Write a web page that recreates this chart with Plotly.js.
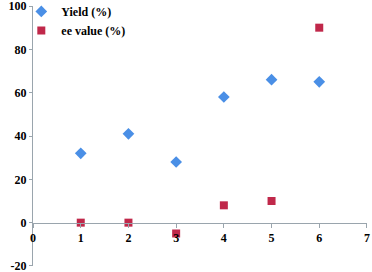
<!DOCTYPE html>
<html><head><meta charset="utf-8">
<script src="https://cdn.plot.ly/plotly-3.0.1.min.js"></script>
<style>html,body{margin:0;padding:0;background:#fff}#c{width:372px;height:272px}</style>
</head><body><div id="c"></div>
<script>
const xVals = [1, 2, 3, 4, 5, 6];
const yieldVals = [32, 41, 28, 58, 66, 65];
const eeVals = [0, 0, -5, 8, 10, 90];
const seriesNames = ["Yield (%)", "ee value (%)"];
const yTickVals = [-20, 0, 20, 40, 60, 80, 100];
const yTickText = ["-20", "0", "20", "40", "60", "80", "100"];
const xTickVals = [0, 1, 2, 3, 4, 5, 6, 7];

const font = {family: "'Liberation Serif', 'Times New Roman', serif", size: 12, color: "#000", weight: 700};
const traces = [
  {x: xVals, y: yieldVals, name: seriesNames[0], type: "scatter", mode: "markers",
   marker: {symbol: "diamond", size: 9, color: "#4a8fe6"}},
  {x: xVals, y: eeVals, name: seriesNames[1], type: "scatter", mode: "markers",
   marker: {symbol: "square", size: 8, color: "#c0284a"}}
];
const layout = {
  width: 372, height: 272,
  margin: {l: 33, r: 5, t: 6, b: 6, autoexpand: false},
  paper_bgcolor: "#fff", plot_bgcolor: "#fff",
  font: font,
  showlegend: true,
  legend: {x: -0.035, y: 1.035, xanchor: "left", yanchor: "top",
    font: font, bgcolor: "rgba(0,0,0,0)", itemwidth: 30},
  xaxis: {range: [-0.001, 7.001], tickvals: xTickVals, anchor: "free", position: 1/6,
    showgrid: false, zeroline: false, showline: true, linecolor: "#9aa5ad", linewidth: 1,
    ticks: "outside", ticklen: 4, tickcolor: "#9aa5ad", tickfont: font, ticklabeloverflow: "allow"},
  yaxis: {range: [-20.01, 100.01], tickvals: yTickVals, ticktext: yTickText, showgrid: false, zeroline: false,
    showline: true, linecolor: "#9aa5ad", linewidth: 1,
    ticks: "outside", ticklen: 3, tickcolor: "#9aa5ad", tickfont: font, ticklabeloverflow: "allow"}
};
Plotly.newPlot("c", traces, layout, {displayModeBar: false, staticPlot: true});
</script></body></html>
